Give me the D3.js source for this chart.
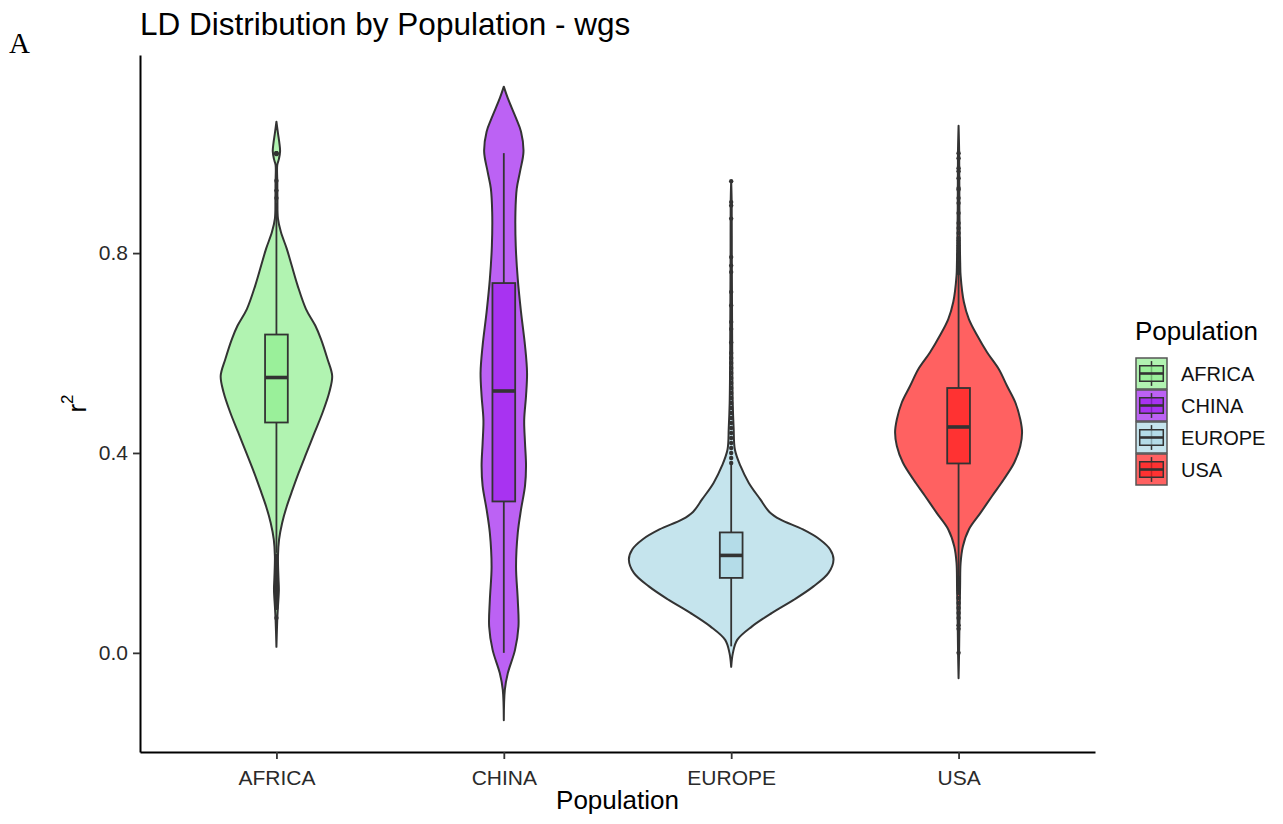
<!DOCTYPE html>
<html>
<head>
<meta charset="utf-8">
<script src="https://cdn.jsdelivr.net/npm/d3@7"></script>
<style>
  body { margin: 0; background: #fff; }
  svg text { font-family: "Liberation Sans", Arial, Helvetica, sans-serif; }
</style>
</head>
<body>
<svg id="chart" width="1283" height="824"></svg>
<script>
// ---- data -------------------------------------------------------------
const populations = ["AFRICA", "CHINA", "EUROPE", "USA"];
const fillColors  = ["#90EE90", "#A020F0", "#ADD8E6", "#FF1E1E"];
const yTickValues = [0, 0.4, 0.8];

// violin outlines: [r2, density], density relative to the widest violin
const africaDensity = [
  [1.063, 0], [1.040, 0.015], [1.020, 0.029], [1.004, 0.036], [0.988, 0.024],
  [0.976, 0.008], [0.940, 0.009], [0.909, 0.010], [0.869, 0.015], [0.842, 0.044],
  [0.809, 0.101], [0.775, 0.150], [0.735, 0.208], [0.688, 0.290], [0.655, 0.381],
  [0.628, 0.437], [0.588, 0.501], [0.554, 0.547], [0.521, 0.518], [0.481, 0.453],
  [0.441, 0.375], [0.400, 0.295], [0.360, 0.218], [0.327, 0.159],
  [0.293, 0.101], [0.260, 0.056], [0.227, 0.026], [0.193, 0.015], [0.150, 0.020],
  [0.126, 0.024], [0.093, 0.015], [0.066, 0.008], [0.012, 0]
];
const chinaDensity = [
  [1.133, 0], [1.110, 0.039], [1.070, 0.120], [1.043, 0.169], [1.003, 0.193],
  [0.963, 0.159], [0.929, 0.127], [0.882, 0.114], [0.815, 0.117], [0.748, 0.137],
  [0.682, 0.169], [0.615, 0.208], [0.561, 0.228], [0.514, 0.218], [0.466, 0.200],
  [0.420, 0.208], [0.374, 0.218], [0.334, 0.208], [0.287, 0.169], [0.240, 0.137],
  [0.173, 0.120], [0.106, 0.137], [0.053, 0.144], [0.006, 0.110], [-0.041, 0.039],
  [-0.074, 0.010], [-0.135, 0]
];
const europeDensity = [
  [0.944, 0], [0.900, 0.005], [0.800, 0.006], [0.700, 0.008], [0.600, 0.010],
  [0.500, 0.015], [0.450, 0.024], [0.407, 0.036], [0.374, 0.091], [0.340, 0.173],
  [0.307, 0.286], [0.282, 0.375], [0.267, 0.480], [0.247, 0.704], [0.227, 0.870],
  [0.207, 0.971], [0.187, 1.004], [0.160, 0.955], [0.133, 0.808], [0.106, 0.613],
  [0.080, 0.401], [0.053, 0.205], [0.026, 0.059], [0.000, 0.017], [-0.028, 0]
];
const usaDensity = [
  [1.055, 0], [1.000, 0.006], [0.900, 0.008], [0.820, 0.012], [0.780, 0.016],
  [0.755, 0.020], [0.702, 0.052], [0.668, 0.101], [0.635, 0.183], [0.601, 0.281],
  [0.568, 0.394], [0.534, 0.476], [0.501, 0.557], [0.467, 0.606], [0.441, 0.623],
  [0.414, 0.606], [0.381, 0.547], [0.347, 0.443], [0.314, 0.329], [0.280, 0.215],
  [0.247, 0.101], [0.213, 0.042], [0.180, 0.020], [0.133, 0.015], [0.050, 0.008],
  [0.000, 0.005], [-0.051, 0]
];

// boxplot summaries, one value per population
const whiskerLow  = [0.200, 0.000, 0.013, 0.153];
const quartile1   = [0.461, 0.303, 0.150, 0.379];
const medians     = [0.551, 0.524, 0.195, 0.452];
const quartile3   = [0.637, 0.740, 0.241, 0.530];
const whiskerHigh = [0.900, 1.000, 0.378, 0.757];

// points beyond the whiskers
const africaOutliers = [1.0, 1.0, 1.0, 0.998, 0.945, 0.925, 0.91,
  0.195, 0.19, 0.185, 0.18, 0.175, 0.17, 0.165, 0.16, 0.155, 0.15, 0.145,
  0.14, 0.135, 0.13, 0.125, 0.12, 0.115, 0.11, 0.105, 0.10, 0.095, 0.09, 0.07];
const chinaOutliers = [];
const europeOutliers = [0.944, 0.902, 0.895, 0.869, 0.792, 0.775, 0.762, 0.722,
  0.695, 0.662, 0.648, 0.621, 0.60, 0.59, 0.58, 0.57, 0.56, 0.55, 0.54, 0.53,
  0.52, 0.51, 0.50, 0.49, 0.48, 0.47, 0.46, 0.45, 0.44, 0.43, 0.42, 0.41, 0.40,
  0.39, 0.38];
const usaOutliers = [1.0, 0.99, 0.97, 0.964, 0.95, 0.93, 0.927, 0.91, 0.90, 0.88,
  0.86, 0.85, 0.84, 0.83, 0.825, 0.82, 0.815, 0.81, 0.805, 0.80, 0.797, 0.795,
  0.79, 0.787, 0.785, 0.78, 0.777, 0.775, 0.77, 0.767, 0.765, 0.76,
  0.15, 0.145, 0.14, 0.135, 0.13, 0.125, 0.12, 0.11, 0.10, 0.09, 0.08, 0.07,
  0.055, 0.048, 0.0];

// ---- layout -----------------------------------------------------------
const densities = [africaDensity, chinaDensity, europeDensity, usaDensity];
const outliers  = [africaOutliers, chinaOutliers, europeOutliers, usaOutliers];

const panel = { left: 140, right: 1095, top: 55, bottom: 752 };
const outline = "#333333";
const svg = d3.select("#chart");

const x = d3.scalePoint().domain(populations)
  .range([panel.left, panel.right]).padding(0.6);

const allVals = densities.flat().map(d => d[0]);
const [lo, hi] = d3.extent(allVals);
const pad = (hi - lo) * 0.05;
const y = d3.scaleLinear().domain([lo - pad, hi + pad])
  .range([panel.bottom, panel.top]);

const w = d3.scaleLinear()
  .domain([0, d3.max(densities.flat(), d => d[1])])
  .range([0, x.step() * 0.45]);

const color = d3.scaleOrdinal().domain(populations).range(fillColors);

// ---- violins + boxplots -----------------------------------------------
const g = svg.append("g");
populations.forEach((p, i) => {
  const cx = x(p);
  const area = d3.area()
    .curve(d3.curveCatmullRom.alpha(0.5))
    .y(d => y(d[0]))
    .x0(d => cx - w(d[1]))
    .x1(d => cx + w(d[1]));
  g.append("path")
    .datum(densities[i])
    .attr("d", area)
    .attr("fill", color(p)).attr("fill-opacity", 0.7)
    .attr("stroke", outline).attr("stroke-width", 2)
    .attr("stroke-linejoin", "round");
});

const boxW = x.step() * 0.1;
populations.forEach((p, i) => {
  const cx = x(p);
  const bg = g.append("g");
  bg.append("line").attr("x1", cx).attr("x2", cx)
    .attr("y1", y(quartile3[i])).attr("y2", y(whiskerHigh[i]))
    .attr("stroke", outline).attr("stroke-width", 1.8);
  bg.append("line").attr("x1", cx).attr("x2", cx)
    .attr("y1", y(quartile1[i])).attr("y2", y(whiskerLow[i]))
    .attr("stroke", outline).attr("stroke-width", 1.8);
  bg.append("rect")
    .attr("x", cx - boxW / 2).attr("width", boxW)
    .attr("y", y(quartile3[i])).attr("height", y(quartile1[i]) - y(quartile3[i]))
    .attr("fill", color(p)).attr("fill-opacity", 0.7)
    .attr("stroke", outline).attr("stroke-width", 1.8);
  bg.append("line")
    .attr("x1", cx - boxW / 2).attr("x2", cx + boxW / 2)
    .attr("y1", y(medians[i])).attr("y2", y(medians[i]))
    .attr("stroke", outline).attr("stroke-width", 3.6);
  bg.selectAll("circle").data(outliers[i]).join("circle")
    .attr("cx", cx).attr("cy", d => y(d)).attr("r", 2.2)
    .attr("fill", outline);
});

// ---- axes -------------------------------------------------------------
const yAxis = svg.append("g")
  .attr("transform", `translate(${panel.left},0)`)
  .call(d3.axisLeft(y).tickValues(yTickValues).tickFormat(d3.format(".1f"))
        .tickSize(7).tickSizeOuter(0).tickPadding(5));
const xAxis = svg.append("g")
  .attr("transform", `translate(0,${panel.bottom})`)
  .call(d3.axisBottom(x).tickSize(7).tickSizeOuter(0).tickPadding(6));

[yAxis, xAxis].forEach(a => {
  a.select(".domain").attr("stroke", "#000").attr("stroke-width", 2);
  a.selectAll(".tick line").attr("stroke", "#333").attr("stroke-width", 1.8);
  a.selectAll(".tick text").attr("fill", "#2a2a2a").style("font-size", "21px")
    .style("font-family", '"Liberation Sans", Arial, sans-serif');
});
xAxis.selectAll(".tick text").attr("dy", "0.95em");

// ---- titles -----------------------------------------------------------
svg.append("text").attr("x", 140).attr("y", 35)
  .style("font-size", "31.5px").attr("fill", "#000")
  .text("LD Distribution by Population - wgs");

svg.append("text").attr("x", 9).attr("y", 53)
  .style("font-family", '"Liberation Serif", "Times New Roman", serif')
  .style("font-size", "29px").attr("fill", "#000").text("A");

svg.append("text")
  .attr("x", (panel.left + panel.right) / 2).attr("y", 809)
  .attr("text-anchor", "middle").style("font-size", "26px").attr("fill", "#000")
  .text("Population");

const yTitle = svg.append("text")
  .attr("transform", `translate(86,${(panel.top + panel.bottom) / 2}) rotate(-90)`)
  .attr("text-anchor", "middle").style("font-size", "26px").attr("fill", "#000");
yTitle.append("tspan").text("r");
yTitle.append("tspan").attr("dy", -13).style("font-size", "17px").text("2");

// ---- legend -----------------------------------------------------------
const legend = svg.append("g").attr("transform", "translate(1135,0)");
legend.append("text").attr("x", 0).attr("y", 340)
  .style("font-size", "26px").attr("fill", "#000").text("Population");

const keySize = 31, keyTop = 358, keyStep = 32;
populations.forEach((p, i) => {
  const ky = keyTop + i * keyStep;
  const k = legend.append("g").attr("transform", `translate(1,${ky})`);
  k.append("rect").attr("width", keySize).attr("height", keySize)
    .attr("fill", color(p)).attr("fill-opacity", 0.7)
    .attr("stroke", "#555").attr("stroke-width", 1.5);
  k.append("line").attr("x1", keySize / 2).attr("x2", keySize / 2)
    .attr("y1", keySize * 0.1).attr("y2", keySize * 0.9)
    .attr("stroke", outline).attr("stroke-width", 1.5);
  k.append("rect").attr("x", keySize * 0.12).attr("width", keySize * 0.76)
    .attr("y", keySize * 0.25).attr("height", keySize * 0.5)
    .attr("fill", color(p)).attr("fill-opacity", 0.7)
    .attr("stroke", outline).attr("stroke-width", 1.5);
  k.append("line").attr("x1", keySize * 0.12).attr("x2", keySize * 0.88)
    .attr("y1", keySize / 2).attr("y2", keySize / 2)
    .attr("stroke", outline).attr("stroke-width", 2.6);
  legend.append("text").attr("x", 46).attr("y", ky + keySize / 2)
    .attr("dy", "0.36em").style("font-size", "20px").attr("fill", "#111")
    .text(p);
});
</script>
</body>
</html>
